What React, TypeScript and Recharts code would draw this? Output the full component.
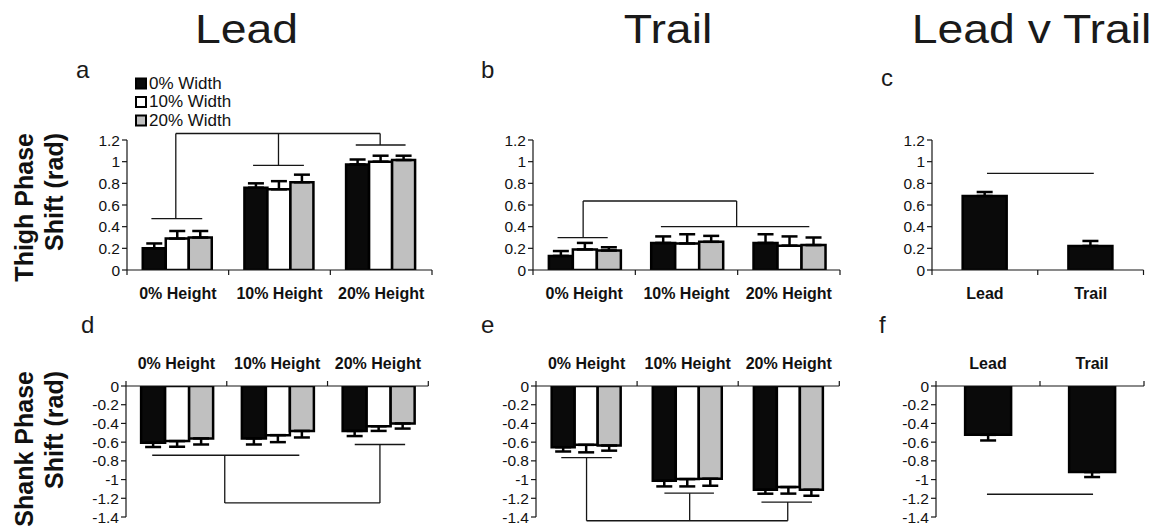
import { BarChart, Bar, XAxis, YAxis, ErrorBar, ReferenceLine } from "recharts"

const heights = ["0% Height", "10% Height", "20% Height"]
const sides = ["Lead", "Trail"]
const widthNames = ["0% Width", "10% Width", "20% Width"]
const widthFills = ["#0a0a0a", "#ffffff", "#c0c0c0"]
const sideFills = ["#0a0a0a"]

const thighTicks = [0, 0.2, 0.4, 0.6, 0.8, 1, 1.2]
const shankTicks = [-1.4, -1.2, -1, -0.8, -0.6, -0.4, -0.2, 0]

// thigh phase shift, lead limb: one array per obstacle width, one value per height
const leadThighW0 = [0.2, 0.76, 0.975]
const leadThighW10 = [0.29, 0.745, 1.0]
const leadThighW20 = [0.3, 0.81, 1.015]
const leadThighErrW0 = [0.045, 0.04, 0.045]
const leadThighErrW10 = [0.07, 0.075, 0.055]
const leadThighErrW20 = [0.06, 0.07, 0.04]

// thigh phase shift, trail limb
const trailThighW0 = [0.13, 0.25, 0.25]
const trailThighW10 = [0.19, 0.245, 0.225]
const trailThighW20 = [0.18, 0.26, 0.23]
const trailThighErrW0 = [0.045, 0.06, 0.08]
const trailThighErrW10 = [0.06, 0.085, 0.085]
const trailThighErrW20 = [0.03, 0.055, 0.07]

// thigh, lead vs trail
const thighSide = [0.683, 0.222]
const thighSideErr = [0.037, 0.046]

// shank phase shift, lead limb
const leadShankW0 = [-0.607, -0.56, -0.48]
const leadShankW10 = [-0.589, -0.525, -0.43]
const leadShankW20 = [-0.56, -0.48, -0.4]
const leadShankErrW0 = [0.045, 0.065, 0.055]
const leadShankErrW10 = [0.06, 0.075, 0.05]
const leadShankErrW20 = [0.065, 0.07, 0.055]

// shank phase shift, trail limb
const trailShankW0 = [-0.654, -1.013, -1.109]
const trailShankW10 = [-0.629, -0.995, -1.08]
const trailShankW20 = [-0.636, -0.991, -1.109]
const trailShankErrW0 = [0.046, 0.06, 0.042]
const trailShankErrW10 = [0.08, 0.078, 0.07]
const trailShankErrW20 = [0.055, 0.075, 0.064]

// shank, lead vs trail
const shankSide = [-0.522, -0.92]
const shankSideErr = [0.06, 0.053]

// significance brackets: polylines in (category position, value)
type Pt = [number, number]
const bracketsA: Pt[][] = [
  [[0.24, 0.474], [0.74, 0.474]],
  [[1.24, 0.966], [1.74, 0.966]],
  [[2.25, 1.154], [2.74, 1.154]],
  [[0.48, 0.474], [0.48, 1.26], [2.49, 1.26], [2.49, 1.154]],
  [[1.49, 1.26], [1.49, 0.966]],
]
const bracketsB: Pt[][] = [
  [[0.24, 0.298], [0.73, 0.298]],
  [[1.25, 0.4], [2.7, 0.4]],
  [[0.49, 0.298], [0.49, 0.637], [1.99, 0.637], [1.99, 0.4]],
]
const bracketsC: Pt[][] = [[[0.52, 0.892], [1.53, 0.892]]]
const bracketsD: Pt[][] = [
  [[0.26, -0.74], [1.72, -0.74]],
  [[2.27, -0.625], [2.77, -0.625]],
  [[0.98, -0.74], [0.98, -1.25], [2.52, -1.25], [2.52, -0.625]],
]
const bracketsE: Pt[][] = [
  [[0.25, -0.765], [0.75, -0.765]],
  [[1.27, -1.145], [1.76, -1.145]],
  [[2.23, -1.24], [2.73, -1.24]],
  [[0.5, -0.765], [0.5, -1.44], [2.49, -1.44], [2.49, -1.24]],
  [[1.52, -1.145], [1.52, -1.44]],
]
const bracketsF: Pt[][] = [[[0.49, -1.157], [1.51, -1.157]]]

const FONT = '"Liberation Sans", Arial, sans-serif'
const INK = "#161616"

function buildRows(labels: string[], series: number[][], errors: number[][]) {
  return labels.map((label, i) => {
    const row: Record<string, any> = { label, pos: i + 0.5 }
    series.forEach((vals, s) => {
      const v = vals[i]
      const e = errors[s][i]
      row[`s${s}`] = v
      // one-sided error bars pointing away from zero
      row[`e${s}`] = v < 0 ? [e, 0] : [0, e]
    })
    return row
  })
}

type PanelProps = {
  left: number
  top: number
  width: number
  yWidth: number
  right: number
  down: boolean
  labels: string[]
  rows: Record<string, any>[]
  fills: string[]
  gap: string
  brackets: Pt[][]
}

function Panel({ left, top, width, yWidth, right, down, labels, rows, fills, gap, brackets }: PanelProps) {
  const numTicks: number[] = []
  for (let i = 0; i <= labels.length * 2; i++) numTicks.push(i / 2)

  // integer positions get a boundary tick, half positions get the group label
  const renderTick = (p: any) => {
    const v = p.payload.value
    if (Number.isInteger(v)) {
      return <line x1={p.x} x2={p.x} y1={p.y} y2={down ? p.y - 5 : p.y + 5} stroke={INK} strokeWidth={1.2} />
    }
    return (
      <text x={p.x} y={down ? p.y - 17 : p.y + 29} textAnchor="middle" fontSize={16} fontWeight="bold" fill="#111" fontFamily={FONT}>
        {labels[Math.floor(v)]}
      </text>
    )
  }

  return (
    <div style={{ position: "absolute", left, top }}>
      <BarChart
        width={width}
        height={200}
        data={rows}
        margin={down ? { top: 0, right, bottom: 13, left: 0 } : { top: 30, right, bottom: 0, left: 0 }}
        barGap={0}
        barCategoryGap={gap}
        style={{ fontFamily: FONT }}
      >
        <XAxis xAxisId="cat" dataKey="label" hide height={0} orientation={down ? "bottom" : "top"} />
        <XAxis
          xAxisId="num"
          dataKey="pos"
          type="number"
          scale="linear"
          domain={[0, labels.length]}
          allowDataOverflow
          ticks={numTicks}
          interval={0}
          orientation={down ? "top" : "bottom"}
          height={down ? 56 : 40}
          tickSize={0}
          tickMargin={0}
          tickLine={false}
          axisLine={{ stroke: INK, strokeWidth: 1.2 }}
          tick={renderTick}
        />
        <YAxis
          domain={down ? [-1.4, 0] : [0, 1.2]}
          allowDataOverflow
          ticks={down ? shankTicks : thighTicks}
          interval={0}
          width={yWidth}
          tickSize={5}
          tickMargin={2}
          axisLine={{ stroke: INK, strokeWidth: 1.2 }}
          tickLine={{ stroke: INK, strokeWidth: 1.2 }}
          tick={{ fontSize: 15.5, fill: "#111" }}
        />
        {fills.map((fill, s) => (
          <Bar key={s} xAxisId="cat" dataKey={`s${s}`} fill={fill} stroke="#000" strokeWidth={2.5} isAnimationActive={false}>
            <ErrorBar dataKey={`e${s}`} direction="y" width={8} stroke="#000" strokeWidth={2.5} />
          </Bar>
        ))}
        {brackets.flatMap((line, b) =>
          line.slice(1).map((pt, k) => (
            <ReferenceLine
              key={`${b}-${k}`}
              xAxisId="num"
              segment={[
                { x: line[k][0], y: line[k][1] },
                { x: pt[0], y: pt[1] },
              ]}
              stroke={INK}
              strokeWidth={1.3}
              ifOverflow="visible"
            />
          ))
        )}
      </BarChart>
    </div>
  )
}

function AxisTitle({ x, y, lines }: { x: number; y: number; lines: string[] }) {
  return (
    <>
      {lines.map((t, i) => (
        <text
          key={t + i}
          transform={`translate(${x + i * 30},${y}) rotate(-90)`}
          textAnchor="end"
          fontSize={25}
          fontWeight="bold"
          fill="#111"
        >
          {t}
        </text>
      ))}
    </>
  )
}

export default function App() {
  const rowsA = buildRows(heights, [leadThighW0, leadThighW10, leadThighW20], [leadThighErrW0, leadThighErrW10, leadThighErrW20])
  const rowsB = buildRows(heights, [trailThighW0, trailThighW10, trailThighW20], [trailThighErrW0, trailThighErrW10, trailThighErrW20])
  const rowsC = buildRows(sides, [thighSide], [thighSideErr])
  const rowsD = buildRows(heights, [leadShankW0, leadShankW10, leadShankW20], [leadShankErrW0, leadShankErrW10, leadShankErrW20])
  const rowsE = buildRows(heights, [trailShankW0, trailShankW10, trailShankW20], [trailShankErrW0, trailShankErrW10, trailShankErrW20])
  const rowsF = buildRows(sides, [shankSide], [shankSideErr])

  return (
    <div style={{ position: "absolute", left: 0, top: 0, width: 1164, height: 531, background: "#fff", fontFamily: FONT, overflow: "hidden" }}>
      <Panel left={60} top={110} width={390} yWidth={67} right={18} down={false} labels={heights} rows={rowsA} fills={widthFills} gap="15.5%" brackets={bracketsA} />
      <Panel left={460} top={110} width={400} yWidth={73} right={20} down={false} labels={heights} rows={rowsB} fills={widthFills} gap="15.5%" brackets={bracketsB} />
      <Panel left={860} top={110} width={300} yWidth={72} right={16.5} down={false} labels={sides} rows={rowsC} fills={sideFills} gap="29%" brackets={bracketsC} />
      <Panel left={60} top={330} width={390} yWidth={66} right={21.7} down labels={heights} rows={rowsD} fills={widthFills} gap="15%" brackets={bracketsD} />
      <Panel left={460} top={330} width={400} yWidth={76} right={20.7} down labels={heights} rows={rowsE} fills={widthFills} gap="15.5%" brackets={bracketsE} />
      <Panel left={860} top={330} width={300} yWidth={76} right={16} down labels={sides} rows={rowsF} fills={sideFills} gap="28%" brackets={bracketsF} />

      <svg width={1164} height={531} style={{ position: "absolute", left: 0, top: 0, pointerEvents: "none" }} fontFamily={FONT}>
        {/* column headings */}
        <g fontSize={40} fill="#1a1a1a" textAnchor="middle">
          <text transform="translate(246.5,42.5) scale(1.16,1)">Lead</text>
          <text transform="translate(668,42.5) scale(1.16,1)">Trail</text>
          <text transform="translate(1031.5,42.5) scale(1.16,1)">Lead v Trail</text>
        </g>

        {/* panel letters */}
        <g fontSize={24} fill="#1a1a1a">
          <text x={76} y={78}>a</text>
          <text x={481} y={78}>b</text>
          <text x={881} y={86}>c</text>
          <text x={81} y={333}>d</text>
          <text x={481} y={333}>e</text>
          <text x={879} y={333}>f</text>
        </g>

        <AxisTitle x={33} y={133} lines={["Thigh Phase", "Shift (rad)"]} />
        <AxisTitle x={33} y={371} lines={["Shank Phase", "Shift (rad)"]} />

        {/* width legend */}
        {widthNames.map((name, i) => (
          <g key={name}>
            <rect x={136} y={78.5 + i * 18.5} width={10} height={10} fill={widthFills[i]} stroke="#000" strokeWidth={2} />
            <text x={149} y={88.5 + i * 18.5} fontSize={17} fill="#111">
              {name}
            </text>
          </g>
        ))}
      </svg>
    </div>
  )
}
